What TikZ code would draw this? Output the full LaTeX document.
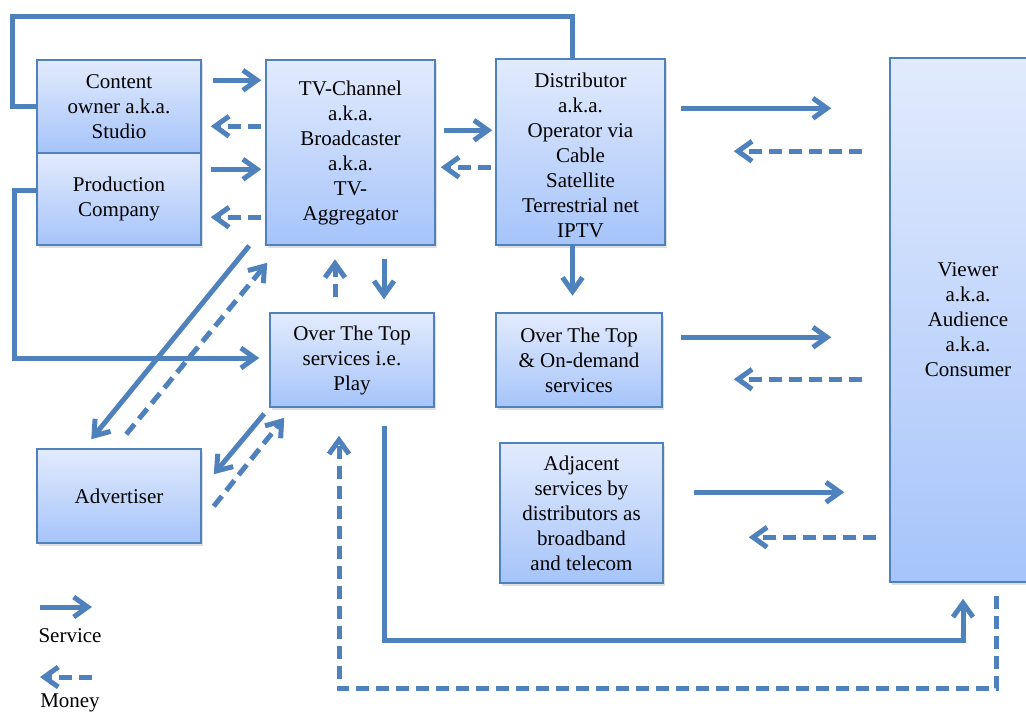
\documentclass[tikz,border=0pt]{standalone}
\usepackage{fontspec}
\setmainfont{Liberation Serif}
\usetikzlibrary{arrows.meta,calc,shadows}

\definecolor{boxline}{RGB}{79,129,189}
\definecolor{boxtop}{RGB}{226,235,253}
\definecolor{boxbot}{RGB}{166,196,250}

\tikzset{
  block/.style={draw=boxline, line width=1.5pt, top color=boxtop, bottom color=boxbot,
    align=center, inner sep=0pt, font=\fontsize{21}{25}\selectfont,
    drop shadow={opacity=0.25, shadow xshift=1.5pt, shadow yshift=-3pt}},
  service/.style={draw=boxline, line width=5pt, -{Straight Barb[length=14pt,width=20pt]}},
  money/.style={service, dash pattern=on 13pt off 7pt},
  plain/.style={draw=boxline, line width=5pt},
  legend/.style={font=\fontsize{21}{25}\selectfont},
}

\begin{document}
\begin{tikzpicture}[x=1pt,y=1pt,yscale=-1,xscale=1]
\clip (0,0) rectangle (1026,715);

%Shape: Rectangle [boxes]
\node[block, minimum width=164pt, minimum height=93pt] (owner) at (119,106.5) {Content\\owner a.k.a.\\Studio};
\node[block, minimum width=164pt, minimum height=92pt] (prod) at (119,199) {Production\\Company};
\node[block, minimum width=169pt, minimum height=185pt] (tv) at (350.5,152.5) {TV-Channel\\a.k.a.\\Broadcaster\\a.k.a.\\TV-\\Aggregator};
\node[block, minimum width=169pt, minimum height=186pt] (dist) at (580.5,152) {\rule{0pt}{21pt}Distributor\\a.k.a.\\Operator via\\Cable\\Satellite\\Terrestrial net\\IPTV};
\node[block, minimum width=164pt, minimum height=94pt] (ott) at (352,360) {Over The Top\\services i.e.\\Play};
\node[block, minimum width=166pt, minimum height=94pt] (ondem) at (579,360) {Over The Top\\\& On-demand\\services};
\node[block, minimum width=163pt, minimum height=140pt] (adj) at (581.5,513) {Adjacent\\services by\\distributors as\\broadband\\and telecom};
\node[block, minimum width=164pt, minimum height=94pt] (adv) at (119,496) {Advertiser};
\node[block, minimum width=156pt, minimum height=524pt] (viewer) at (968,320) {Viewer\\a.k.a.\\Audience\\a.k.a.\\Consumer};

%Straight Lines [owner, production <-> tv]
\draw[service] ($(owner.north east)+(11,21)$) -- ($(owner.north east -| tv.west)+(-4,21)$);
\draw[money] ($(owner.north east -| tv.west)+(-4,67)$) -- ($(owner.north east)+(9,67)$);
\draw[service] ($(prod.north east)+(9,17)$) -- ($(prod.north east -| tv.west)+(-4,17)$);
\draw[money] ($(prod.north east -| tv.west)+(-4,65)$) -- ($(prod.north east)+(9,65)$);

%Straight Lines [tv <-> distributor]
\draw[service] ($(tv.north east)+(8,71)$) -- ($(tv.north east -| dist.west)+(-3,71)$);
\draw[money] ($(tv.north east -| dist.west)+(-4,108)$) -- ($(tv.north east)+(5,108)$);

%Straight Lines [distributor <-> viewer]
\draw[service] ($(dist.north east)+(15,50)$) -- ($(dist.north east -| viewer.west)+(-58,50)$);
\draw[money] ($(dist.north east -| viewer.west)+(-27,93)$) -- ($(dist.north east)+(68,93)$);
\draw[service] ($(dist.south)+(-8,0)$) -- ($(dist.south)+(-8,50)$);

%Straight Lines [loops on the left and top]
\draw[plain] (owner.west) -- ++(-24,0) |- ($(dist.north)+(-8,-42)$) -- ($(dist.north)+(-8,0)$);
\draw[service] ($(prod.west)+(0,-9)$) -- ++(-22,0) |- ($(ott.west)+(-10,-2)$);

%Straight Lines [tv <-> ott]
\draw[money] ($(ott.north)+(-17,-15)$) -- ($(ott.north)+(-17,-53)$);
\draw[service] ($(ott.north)+(32,-53)$) -- ($(ott.north)+(32,-13)$);

%Straight Lines [advertiser]
\draw[service] ($(tv.south west)+(-16,0)$) -- ($(adv.north west)+(55,-9)$);
\draw[money] ($(adv.north west)+(90,-14)$) -- ($(tv.south west)+(2,17)$);
\draw[service] ($(ott.south west)+(-5,6)$) -- ($(adv.north east)+(12,26)$);
\draw[money] ($(adv.north east)+(12,58)$) -- ($(ott.south west)+(15,10)$);

%Straight Lines [ott <-> viewer, underneath]
\draw[service] ($(ott.south)+(32,18)$) |- ($(viewer.south)+(-5,58)$) -- ($(viewer.south)+(-5,16)$);
\draw[money] ($(viewer.south)+(28,13)$) -- ++(0,93) -| ($(ott.south)+(-13,28)$);

%Straight Lines [on-demand, adjacent <-> viewer]
\draw[service] ($(ondem.north east)+(18,25)$) -- ($(ondem.north east -| viewer.west)+(-58,25)$);
\draw[money] ($(ondem.north east -| viewer.west)+(-27,67)$) -- ($(ondem.north east)+(71,67)$);
\draw[service] ($(adj.north east)+(30,50)$) -- ($(adj.north east -| viewer.west)+(-45,50)$);
\draw[money] ($(adj.north east -| viewer.west)+(-13,95)$) -- ($(adj.north east)+(85,95)$);

%Legend
\node[legend] (svc) at (70,636) {Service};
\draw[service] ($(svc)+(-30,-29)$) -- ($(svc)+(22,-29)$);
\node[legend] (mon) at (70,703) {Money};
\draw[money] ($(mon)+(22,-26)$) -- ($(mon)+(-30,-26)$);
\end{tikzpicture}
\end{document}
